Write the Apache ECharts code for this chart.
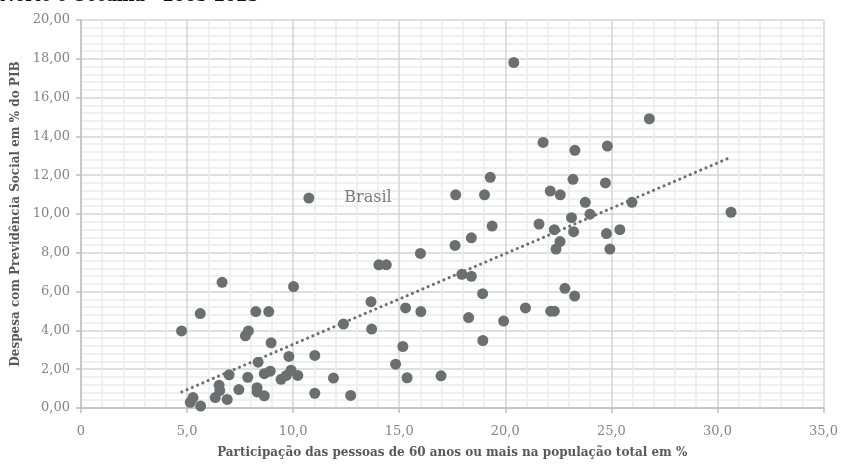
<!DOCTYPE html>
<html><head><meta charset="utf-8">
<script src="https://cdn.jsdelivr.net/npm/echarts@6/dist/echarts.min.js"></script>
<style>html,body{margin:0;padding:0;background:#fff}#c{width:841px;height:464px}</style>
</head><body><div id="c"></div>
<script>
const titleText = "Norte e Oceania - 2003-2023";
const xAxisName = "Participação das pessoas de 60 anos ou mais na população total em %";
const yAxisName = "Despesa com Previdência Social em % do PIB";
const highlightName = "Brasil";
const highlightX = 10.74;
const highlightY = 10.82;
const popShare = [4.74,5.62,6.65,10.02,8.24,8.85,7.89,7.75,8.96,9.80,11.02,12.37,8.35,6.98,7.86,8.64,8.92,9.43,9.68,9.90,10.22,11.90,6.51,6.54,6.33,6.89,7.44,8.30,8.30,8.64,11.02,12.71,5.15,5.28,5.64,
17.66,19.02,19.29,19.38,18.40,17.63,16.00,14.04,14.39,17.95,18.40,18.93,13.67,15.30,16.02,18.27,19.92,20.95,22.14,22.31,22.81,23.27,13.70,15.17,14.83,15.37,16.97,18.94,
21.59,22.12,22.59,23.19,23.28,23.77,23.12,23.99,22.31,23.22,22.58,22.39,26.79,24.81,24.72,25.97,30.64,24.77,25.40,24.93,20.40,21.78];
const spending = [3.97,4.87,6.48,6.26,4.97,4.97,3.97,3.72,3.36,2.66,2.71,4.33,2.36,1.71,1.58,1.77,1.90,1.48,1.68,1.95,1.68,1.54,1.17,0.90,0.54,0.44,0.95,1.05,0.83,0.63,0.76,0.65,0.29,0.54,0.10,
10.99,10.99,11.89,9.38,8.77,8.38,7.97,7.38,7.38,6.89,6.79,5.89,5.48,5.16,4.97,4.66,4.48,5.16,4.99,4.99,6.17,5.77,4.07,3.17,2.26,1.56,1.66,3.48,
9.48,11.18,10.99,11.79,13.28,10.60,9.81,9.99,9.19,9.09,8.58,8.19,14.91,13.50,11.60,10.60,10.09,8.99,9.19,8.19,17.81,13.69];
const trendX = [4.75, 30.62];
const trendY = [0.83, 12.92];
const xTicks = {min: 0, max: 35, interval: 5};
const yTicks = {min: 0, max: 20, interval: 2};

const serif = "'DejaVu Serif', serif";
const ptColor = '#6d6e70';
const pts = popShare.map((x, i) => [x, spending[i]]);
const hl = {value: [highlightX, highlightY], label: {show: true, formatter: highlightName, position: 'right', distance: 30, fontFamily: serif, fontSize: 16, color: '#7a7a7a'}};
const trend = trendX.map((x, i) => [x, trendY[i]]);

const chart = echarts.init(document.getElementById('c'), null, {renderer: 'canvas'});
chart.setOption({
  animation: false,
  backgroundColor: '#fff',
  graphic: [{type: 'text', left: 0, top: -11, style: {text: titleText, font: "bold 16px " + serif, fill: '#111'}}],
  grid: {left: 81, right: 15, top: 20, bottom: 51},
  xAxis: {
    type: 'value', min: xTicks.min, max: xTicks.max, interval: xTicks.interval,
    name: xAxisName, nameLocation: 'middle', nameGap: 39,
    nameTextStyle: {fontFamily: serif, fontWeight: 'bold', fontSize: 12, color: '#595959'},
    axisLine: {show: true, lineStyle: {color: '#bfbfbf', width: 1.5}},
    axisTick: {show: true, length: 5, lineStyle: {color: '#bfbfbf', width: 1.5}},
    axisLabel: {margin: 17, fontFamily: serif, fontSize: 13, color: '#858585', formatter: v => v === 0 ? '0' : v.toFixed(1).replace('.', ',')},
    splitLine: {show: true, lineStyle: {color: '#d4d4d4', width: 1.5}},
    minorTick: {show: false, splitNumber: 5},
    minorSplitLine: {show: true, lineStyle: {color: '#ececec', width: 1.5}}
  },
  yAxis: {
    type: 'value', min: yTicks.min, max: yTicks.max, interval: yTicks.interval,
    name: yAxisName, nameLocation: 'middle', nameGap: 54, nameRotate: 90,
    nameTextStyle: {fontFamily: serif, fontWeight: 'bold', fontSize: 12, color: '#595959'},
    axisLine: {show: true, lineStyle: {color: '#bfbfbf', width: 1.5}},
    axisTick: {show: true, length: 5, lineStyle: {color: '#bfbfbf', width: 1.5}},
    axisLabel: {margin: 11, fontFamily: serif, fontSize: 13, color: '#858585', formatter: v => v.toFixed(2).replace('.', ',')},
    splitLine: {show: true, lineStyle: {color: '#d4d4d4', width: 1.5}},
    minorTick: {show: false, splitNumber: 5},
    minorSplitLine: {show: true, lineStyle: {color: '#ececec', width: 1.5}}
  },
  series: [
    {type: 'line', data: trend, showSymbol: false, symbol: 'none', silent: true, z: 3,
     lineStyle: {color: ptColor, width: 3, type: [0.1, 5.6], cap: 'round'}},
    {type: 'scatter', data: pts, symbolSize: 11, itemStyle: {color: ptColor, opacity: 1}, z: 4},
    {type: 'scatter', data: [hl], symbolSize: 11, itemStyle: {color: ptColor, opacity: 1}, z: 5}
  ]
});
</script></body></html>
